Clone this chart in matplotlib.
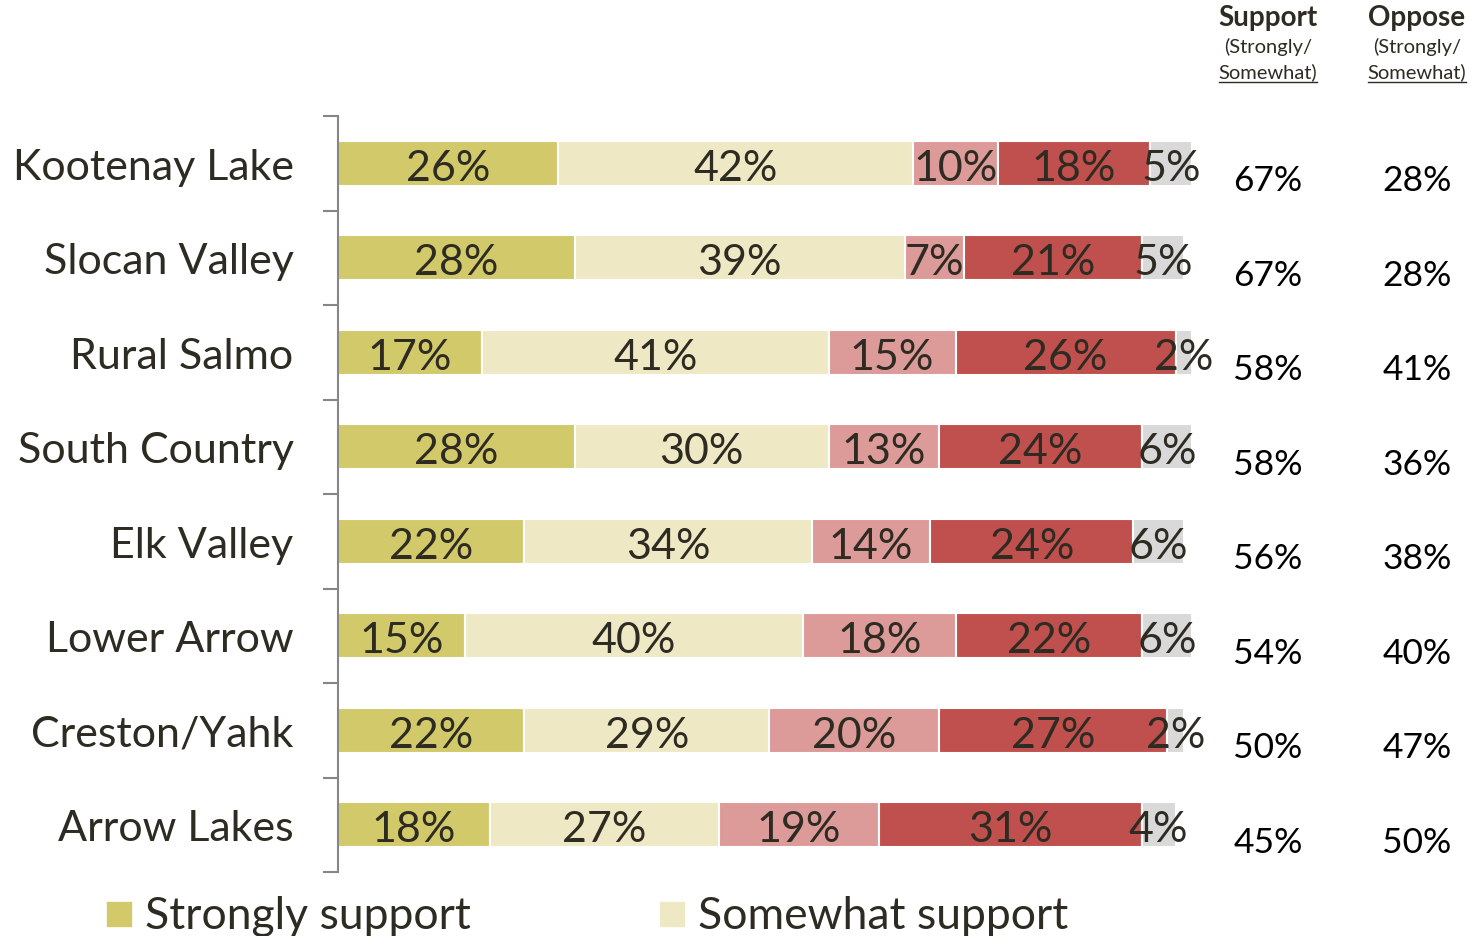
import matplotlib.pyplot as plt
from matplotlib.patches import Rectangle
from matplotlib.lines import Line2D
from matplotlib.transforms import blended_transform_factory

plt.rcParams['font.family'] = ['Lato', 'DejaVu Sans']

# ---- data ----
regions = ['Kootenay Lake', 'Slocan Valley', 'Rural Salmo', 'South Country',
           'Elk Valley', 'Lower Arrow', 'Creston/Yahk', 'Arrow Lakes']
strongly_support = [26, 28, 17, 28, 22, 15, 22, 18]
somewhat_support = [42, 39, 41, 30, 34, 40, 29, 27]
somewhat_oppose = [10, 7, 15, 13, 14, 18, 20, 19]
strongly_oppose = [18, 21, 26, 24, 24, 22, 27, 31]
dont_know = [5, 5, 2, 6, 6, 6, 2, 4]
support_total = [67, 67, 58, 58, 56, 54, 50, 45]
oppose_total = [28, 28, 41, 36, 38, 40, 47, 50]

series = [
    ('Strongly support', strongly_support, '#D2C96B'),
    ('Somewhat support', somewhat_support, '#EEE9C4'),
    ('Somewhat oppose', somewhat_oppose, '#DC9A98'),
    ('Strongly oppose', strongly_oppose, '#C0504D'),
    ("Don't know", dont_know, '#D9D9D9'),
]
legend_shown = ['Strongly support', 'Somewhat support']

TXT = '#2D2B22'
W, H = 1474, 937

fig = plt.figure(figsize=(W / 100, H / 100), dpi=100)
xmax = 101.5
ax = fig.add_axes([338 / W, 1 - 873 / H, xmax * 8.46 / W, (873 - 117) / H])

ypos = list(range(len(regions)))
left = [0] * len(regions)
for name, vals, color in series:
    ax.barh(ypos, vals, left=left, height=0.48, color=color,
            edgecolor='white', linewidth=1.5)
    for y, v, l in zip(ypos, vals, left):
        ax.text(l + v / 2, y + 0.045, f'{v}%', ha='center', va='center',
                fontsize=31, color=TXT)
    left = [a + b for a, b in zip(left, vals)]

ax.set_xlim(0, xmax)
ax.set_ylim(len(regions) - 0.5, -0.5)
ax.set_xticks([])
ax.set_yticks(ypos)
ax.set_yticklabels(regions, fontsize=31, color=TXT)
ax.tick_params(axis='y', which='major', length=0, pad=32)
ax.set_yticks([i - 0.5 for i in range(len(regions) + 1)], minor=True)
ax.tick_params(axis='y', which='minor', length=11, width=1.5, color='#868686')
for s in ['top', 'right', 'bottom']:
    ax.spines[s].set_visible(False)
ax.spines['left'].set_color('#868686')
ax.spines['left'].set_linewidth(1.5)

# summary columns on the right
tr = blended_transform_factory(fig.transFigure, ax.transData)
cols = [('Support', support_total, 1268 / W), ('Oppose', oppose_total, 1417 / W)]
for head, vals, xc in cols:
    for y, v in zip(ypos, vals):
        ax.text(xc, y + 0.18, f'{v}%', transform=tr, ha='center', va='center',
                fontsize=25.5, color='black')
    fig.text(xc, 1 - 18 / H, head, ha='center', va='center', fontsize=20,
             fontweight='bold', color=TXT)
    fig.text(xc, 1 - 47 / H, '(Strongly/', ha='center', va='center',
             fontsize=14.5, color=TXT)
    t = fig.text(xc, 1 - 72 / H, 'Somewhat)', ha='center', va='center',
                 fontsize=14.5, color=TXT)
    fig.canvas.draw()
    bb = t.get_window_extent().transformed(fig.transFigure.inverted())
    fig.add_artist(Line2D([bb.x0, bb.x1], [1 - 83 / H] * 2, color=TXT,
                          linewidth=1, transform=fig.transFigure))

# legend (only the first row is visible)
leg_x = [107, 660]
for (name, vals, color), lx in zip([s for s in series if s[0] in legend_shown], leg_x):
    fig.add_artist(Rectangle((lx / W, 1 - 927 / H), 24 / W, 24 / H,
                             color=color, transform=fig.transFigure))
    fig.text((lx + 38) / W, 1 - 917 / H, name, ha='left', va='center',
             fontsize=32, color=TXT)

fig.savefig('out.png', dpi=100)
